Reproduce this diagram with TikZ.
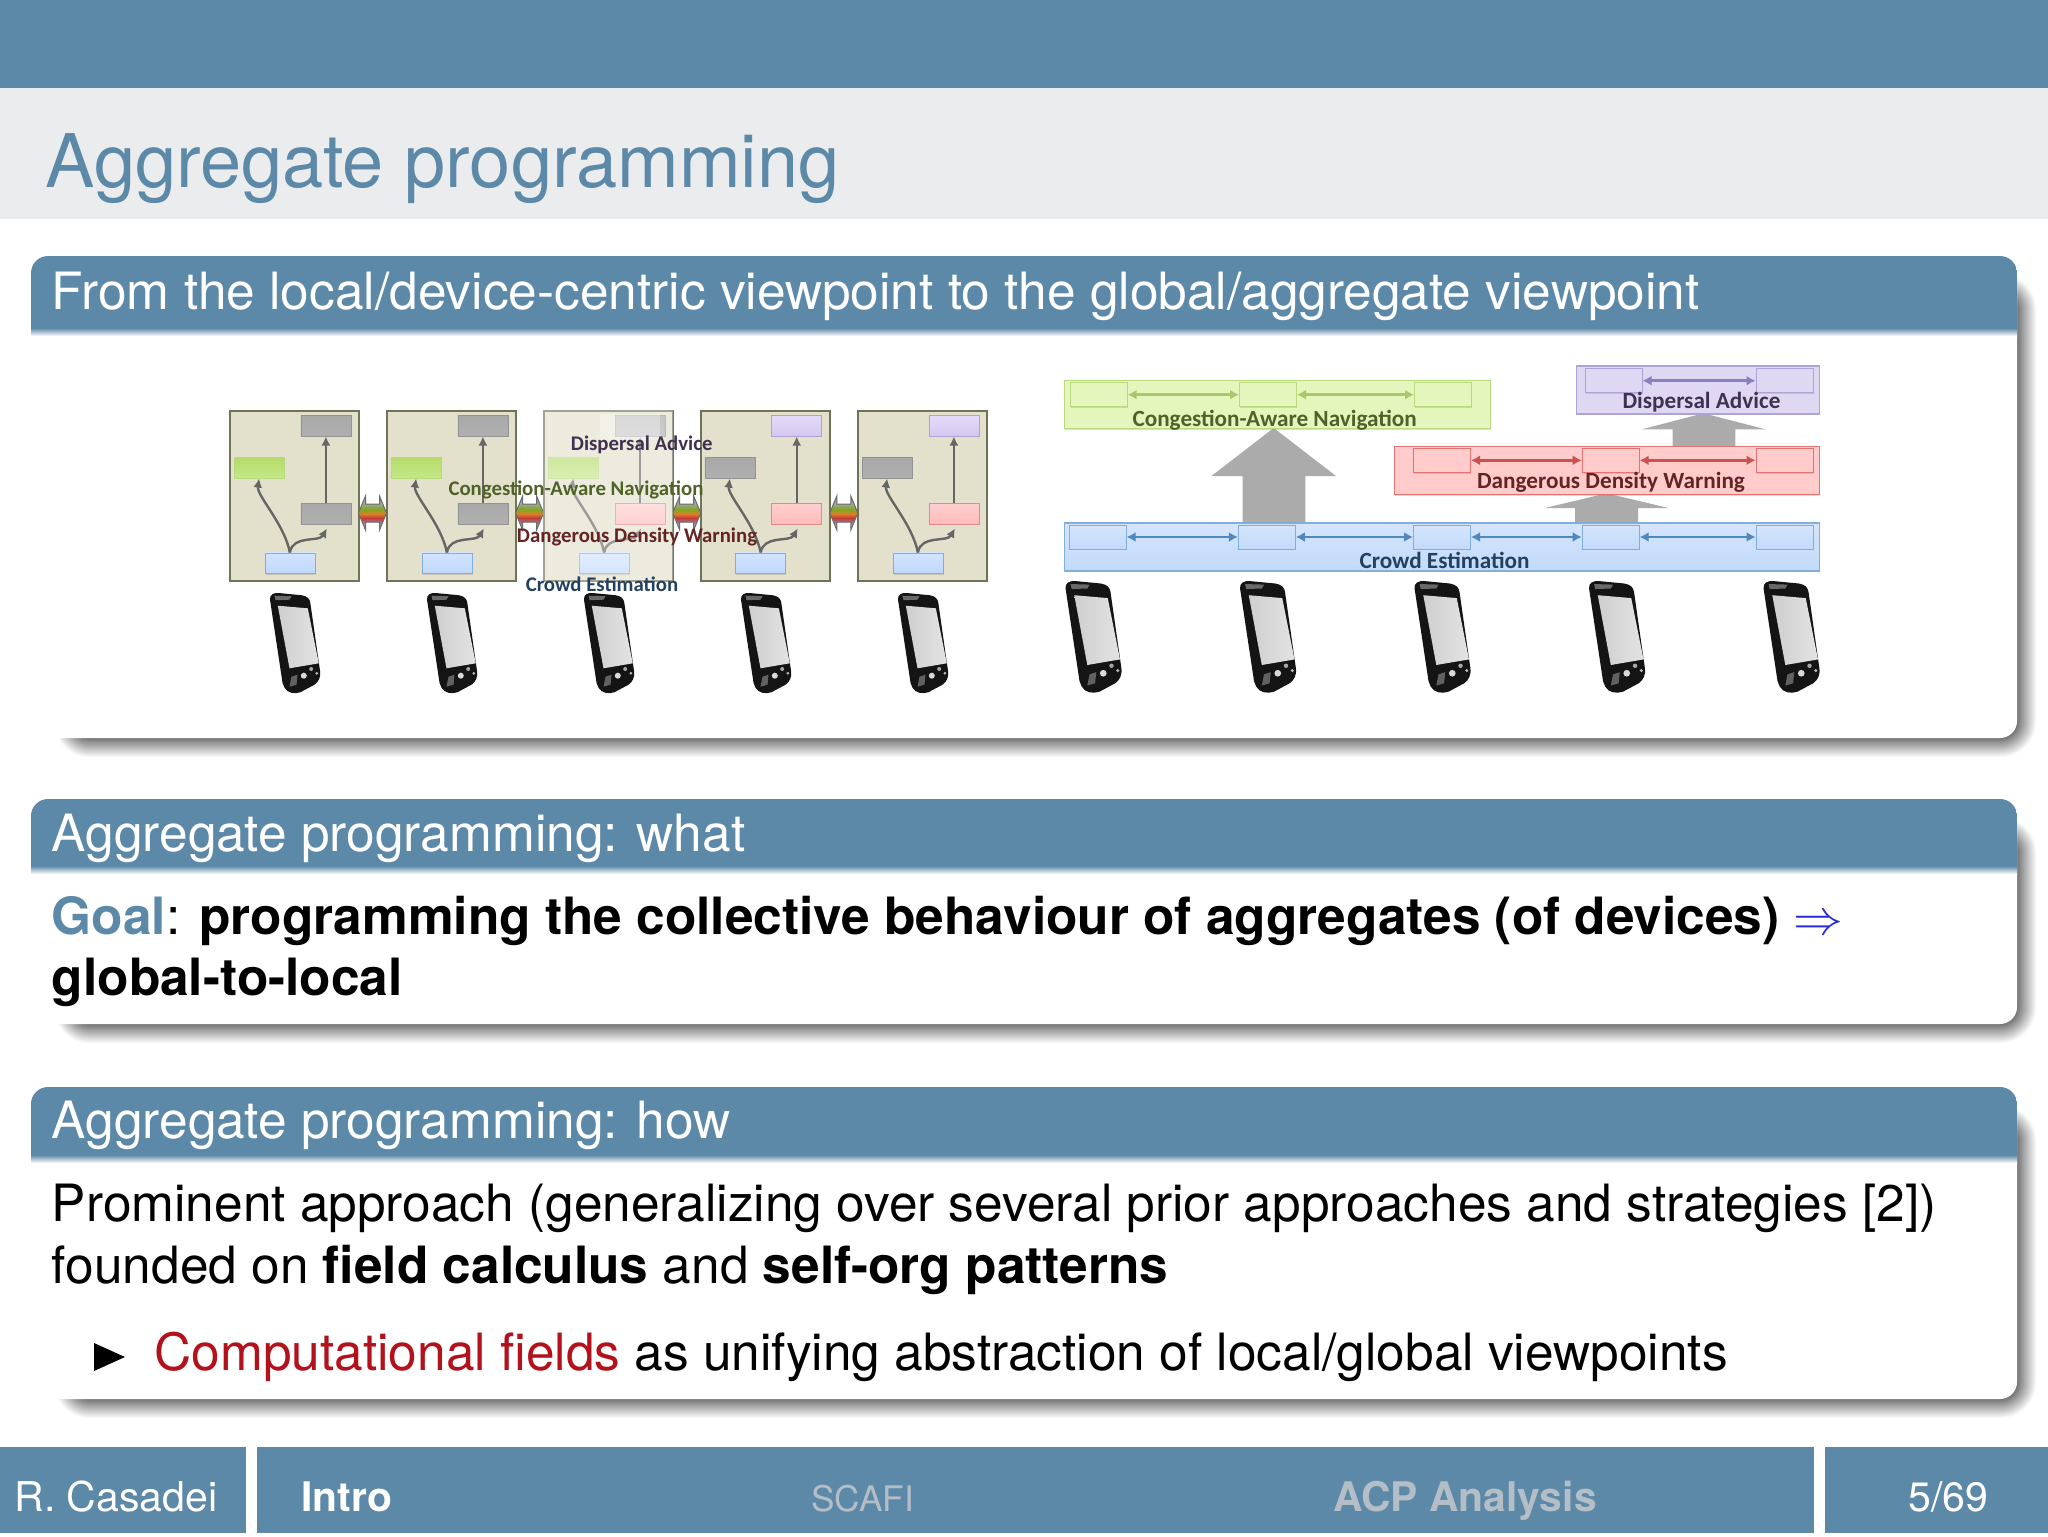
\documentclass[tikz,border=0pt]{standalone}
\usepackage{fontspec}
\setmainfont{TeX Gyre Heros}
\newfontfamily\carlitofont{Carlito}
\usetikzlibrary{arrows.meta,calc,shadows}
\definecolor{hdr}{HTML}{5D89A9}
\definecolor{band}{HTML}{EBECEE}
\definecolor{shg}{HTML}{707070}
\definecolor{alertred}{HTML}{B3121D}
\definecolor{footgray}{HTML}{B4BEC6}
\definecolor{arrowblue}{HTML}{2A2AD8}
\definecolor{devfill}{HTML}{E3E1CB}
\definecolor{devedge}{HTML}{6F7358}
\definecolor{conn}{HTML}{666666}
\definecolor{bigarrow}{HTML}{ABABAB}
\definecolor{GE}{HTML}{B9D97E}\definecolor{GF}{HTML}{E4F6BC}
\definecolor{PE}{HTML}{AFA3D6}\definecolor{PF}{HTML}{DFD8F2}
\definecolor{RE}{HTML}{DF7472}\definecolor{RF}{HTML}{FFCBCB}
\definecolor{BE}{HTML}{84AEDA}\definecolor{BF}{HTML}{C2DAFA}
\definecolor{tgreen}{HTML}{4F6228}\definecolor{tpurple}{HTML}{3F3151}
\definecolor{tred}{HTML}{632423}\definecolor{tblue}{HTML}{244061}
\definecolor{lgreen}{HTML}{A9C76D}\definecolor{lpurple}{HTML}{8C7FBE}
\definecolor{lred}{HTML}{C9534F}\definecolor{lblue}{HTML}{4F87BF}
\tikzset{
 x=0.5pt,y=-0.5pt,
 slidetitle/.style={anchor=base west,inner sep=0,text=hdr,font=\fontsize{37}{40}\selectfont},
 blocktitle/.style={anchor=base west,inner sep=0,text=white,font=\fontsize{25.7}{30}\selectfont},
 bodytext/.style={anchor=base west,inner sep=0,text=black,font=\fontsize{25.7}{30}\selectfont},
 foot/.style={anchor=base west,inner sep=0,text=white,font=\fontsize{20.5}{24}\selectfont},
 footb/.style={anchor=base west,inner sep=0,text=white,font=\fontsize{20.4}{24}\selectfont\bfseries},
 softshadow/.style={drop shadow={shadow xshift=0.3pt,shadow yshift=-0.6pt,opacity=.28}},
 devbox/.style={draw=devedge,fill=devfill,line width=0.9pt,minimum width=64.5pt,minimum height=85pt,inner sep=0,anchor=north west,softshadow},
 mini/.style={minimum width=25pt,minimum height=10.4pt,inner sep=0,line width=0.4pt,softshadow},
 grayN/.style={mini,draw=gray!85,top color=gray!68,bottom color=gray!62},
 greenN/.style={mini,draw=GE,top color=green1,bottom color=green2},
 redN/.style={mini,draw=RE!85,top color=red1,bottom color=red2},
 blueN/.style={mini,draw=BE,top color=blue1,bottom color=blue2},
 purpleN/.style={mini,draw=PE,top color=purple1,bottom color=purple2},
 connect/.style={draw=conn,line width=1.2pt,-{Latex[length=4.5pt,width=4.5pt]}},
 lbl/.style={inner sep=0,font=\carlitofont\bfseries\fontsize{10.4}{12}\selectfont},
 lblr/.style={inner sep=0,font=\carlitofont\bfseries\fontsize{11.6}{13}\selectfont},
 layer/.style={minimum height=24pt,inner sep=0,anchor=north west,line width=0.6pt,softshadow},
 sub/.style={minimum width=28.5pt,minimum height=12pt,inner sep=0,line width=0.5pt,softshadow},
 glayer/.style={layer,draw=GE,fill=GF},
 player/.style={layer,draw=PE,fill=PF},
 rlayer/.style={layer,draw=RE,fill=RF},
 blayer/.style={layer,draw=BE,top color=BF!70!white,bottom color=BF},
 gsub/.style={sub,draw=GE,fill=GF},
 psub/.style={sub,draw=PE,fill=PF},
 rsub/.style={sub,draw=RE,fill=RF},
 bsub/.style={sub,draw=BE,top color=BF!70!white,bottom color=BF},
 link/.style={line width=1.4pt,{Latex[length=4.5pt,width=5pt]}-{Latex[length=4.5pt,width=5pt]}},
 phonepic/.pic={
  \fill[black!92] (0.5,7) .. controls (0,2) and (4,0) .. (9,0.3) -- (32,2.5) .. controls (38,3.5) and (40,6) .. (40.8,10) -- (50.5,78) .. controls (51.5,85) and (49,89) .. (45,92) -- (31,99.5) .. controls (25,101.5) and (18,100.5) .. (15,95) .. controls (14,93) and (13.5,92) .. (13,90) -- cycle;
  \fill[gray!50,opacity=.5] (5,3) -- (22,3.5) -- (20,7) -- (6,7.5) -- cycle;
  \shade[left color=black!19,right color=black!11] (8.3,13) -- (38.3,15.6) -- (49.3,70.6) -- (20,75.6) -- cycle;
  \fill[gray!50,opacity=.45] (22,84) -- (28,82) -- (27,92) -- (20,94) -- cycle;
  \fill[white!85!black] (34.3,83) circle[radius=3];
  \fill[gray!70] (41.7,76.3) circle[radius=2];
  \fill[gray!55] (47.3,80.6) circle[radius=1.5];
 }
}
\definecolor{green1}{HTML}{B4DC6A}\definecolor{green2}{HTML}{C6E788}
\definecolor{red1}{HTML}{FFCFCF}\definecolor{red2}{HTML}{FFBABA}
\definecolor{blue1}{HTML}{D2E4FF}\definecolor{blue2}{HTML}{BFD8FA}
\definecolor{purple1}{HTML}{E4DCF9}\definecolor{purple2}{HTML}{D2C8F0}
\newcommand\blockshape[6]{%
 % #1 node name, #2 top, #3 header bottom, #4 bottom, #5 title baseline, #6 title
 \foreach \k in {20,19,...,0}{
  \pgfmathsetmacro\rr{(17+\k)*0.5}
  \pgfmathtruncatemacro\cc{100-5*\k}
  \fill[shg!\cc!white,rounded corners=\rr pt] (73-\k,#2+37-\k) rectangle (2017+\k,#4+\k);
 }
 \fill[white,rounded corners=8.5pt] (31,#2) rectangle (2017,#4);
 \begin{scope}\clip[rounded corners=8.5pt] (31,#2) rectangle (2017,#4);
  \fill[hdr] (31,#2) rectangle (2017,#3);
  \shade[top color=hdr,bottom color=white] (31,#3) rectangle (2017,#3+8);
 \end{scope}
 \node[blocktitle] (#1) at (51.5,#5) {#6};
}
\begin{document}
\begin{tikzpicture}
\useasboundingbox (0,0) rectangle (2048,1536);
\fill[white] (0,0) rectangle (2048,1536);
\fill[hdr] (0,0) rectangle (2048,88);
\fill[band] (0,88) rectangle (2048,219);
\node[slidetitle] (title) at (45,187) {Aggregate programming};
\blockshape{blockA}{256}{328}{738}{309}{From the local/device-centric viewpoint to the global/aggregate viewpoint}
\blockshape{blockB}{799}{866}{1024}{851}{Aggregate programming: what}
\blockshape{blockC}{1087}{1155}{1399}{1138}{Aggregate programming: how}
\node[bodytext] (goal) at (51.5,934) {\textcolor{hdr}{\bfseries Goal}: \textbf{programming the collective behaviour of aggregates (of devices)} \textcolor{arrowblue}{$\Rightarrow$}};
\node[bodytext] (goalb) at (51.5,995) {\textbf{global-to-local}};
\node[bodytext] (howa) at (51.5,1221) {Prominent approach (generalizing over several prior approaches and strategies [2])};
\node[bodytext] (howb) at (51.5,1283) {founded on \textbf{field calculus} and \textbf{self-org patterns}};
\fill[black] (94,1343) -- (125,1357) -- (94,1371) -- cycle;
\node[bodytext] (howc) at (154,1370) {\textcolor{alertred}{Computational fields} as unifying abstraction of local/global viewpoints};
\fill[hdr] (0,1447) rectangle (246,1533);
\fill[hdr] (257,1447) rectangle (1814,1533);
\fill[hdr] (1825,1447) rectangle (2048,1533);
\node[foot] (fa) at (14,1511) {R. Casadei};
\node[footb] (fb) at (301,1511) {Intro};
\node[foot,text=footgray,font=\fontsize{17.6}{22}\selectfont] (fc) at (811,1511) {SCAFI};
\node[footb,text=footgray] (fd) at (1333,1511) {ACP Analysis};
\node[foot] (fe) at (1908,1511) {5/69};
\foreach \i/\x/\tp/\lf/\md in {1/229/grayN/greenN/grayN,2/386/grayN/greenN/grayN,3/543.2/grayN/greenN/redN,4/699.8/purpleN/grayN/redN,5/857/purpleN/grayN/redN}{
 \node[devbox] (box\i) at (\x,410) {};
 \node[\tp] (tp\i) at (\x+96.9,425.7) {};
 \node[\lf] (lf\i) at (\x+30.1,467.8) {};
 \node[\md] (md\i) at (\x+96.9,513.7) {};
 \node[blueN] (bl\i) at (\x+60.9,563.3) {};
 \draw[connect] (md\i.north) -- (tp\i.south);
 \draw[connect] (bl\i.north) .. controls +(-5.6,-28.7) and +(-2.5,17) .. (lf\i.south);
 \draw[connect] (bl\i.north) .. controls +(3,-18) and +(-8,14) .. ($(md\i.south)+(1,4)$);
}
\foreach \x in {358.5,515.6,672.7,829.8}{
 \begin{scope}
  \clip (\x,513) -- (\x+7,496) -- (\x+7,504) -- (\x+21,504) -- (\x+21,496) -- (\x+28,513) -- (\x+21,530) -- (\x+21,522) -- (\x+7,522) -- (\x+7,530) -- cycle;
  \fill[gray!75] (\x,495) rectangle (\x+28,531);
  \shade[top color=gray!70,bottom color=olive!65!green!60!gray!85] (\x,503) rectangle (\x+28,509);
  \shade[top color=olive!65!green!60!gray!85,bottom color=orange!70!gray] (\x,509) rectangle (\x+28,514);
  \shade[top color=orange!70!gray,bottom color=red!55!gray] (\x,514) rectangle (\x+28,518);
  \shade[top color=red!55!gray,bottom color=gray!75!violet!80] (\x,518) rectangle (\x+28,523);
 \end{scope}
 \draw[gray!85!black,line width=0.5pt] (\x,513) -- (\x+7,496) -- (\x+7,504) -- (\x+21,504) -- (\x+21,496) -- (\x+28,513) -- (\x+21,530) -- (\x+21,522) -- (\x+7,522) -- (\x+7,530) -- cycle;
}
\fill[white,opacity=.35] (543,409) rectangle (672.5,582);
\fill[white,opacity=.35] (600,414) rectangle (660,440);
\node[lbl,text=tpurple] (da1) at (641.7,445) {Dispersal Advice};
\node[lbl,text=tgreen] (cn1) at (576,490) {Congestion-Aware Navigation};
\node[lbl,text=tred] (dd1) at (637,537) {Dangerous Density Warning};
\node[lbl,text=tblue] (ce1) at (602,584) {Crowd Estimation};
\foreach \i/\x in {1/0,2/157,3/314,4/471,5/628}{
 \pic (pa\i) at (269.5+\x,592.7) {phonepic};
}
\fill[bigarrow] (1242.5,522) -- (1242.5,476) -- (1211.4,476) -- (1273.7,428) -- (1336,476) -- (1305.3,476) -- (1305.3,522) -- cycle;
\fill[bigarrow] (1672.7,446) -- (1672.7,429.3) -- (1642,429.3) -- (1703.5,413.3) -- (1765.5,429.3) -- (1735.4,429.3) -- (1735.4,446) -- cycle;
\fill[bigarrow] (1575,522) -- (1575,508) -- (1545,508) -- (1606.5,493.3) -- (1668.6,508) -- (1638,508) -- (1638,522) -- cycle;
\node[glayer,minimum width=212.75pt] (lg) at (1064,380) {};
\node[player,minimum width=121.8pt] (lp) at (1575.5,365.3) {};
\node[rlayer,minimum width=212.5pt] (lr) at (1394,446) {};
\node[blayer,minimum width=377.5pt] (lb) at (1064,522.3) {};
\foreach \n/\x in {g1/1098.7,g2/1268,g3/1443}{\node[gsub] (\n) at (\x,394.7) {};}
\foreach \n/\x in {p1/1613.5,p2/1784.5}{\node[psub] (\n) at (\x,380.7) {};}
\foreach \n/\x in {r1/1442,r2/1610.7,r3/1784.5}{\node[rsub] (\n) at (\x,460.3) {};}
\foreach \n/\x in {c1/1097.6,c2/1266.8,c3/1442,c4/1610.7,c5/1784.5}{\node[bsub] (\n) at (\x,537) {};}
\draw[link,lgreen] (g1) -- (g2); \draw[link,lgreen] (g2) -- (g3);
\draw[link,lpurple] (p1) -- (p2);
\draw[link,lred] (r1) -- (r2); \draw[link,lred] (r2) -- (r3);
\draw[link,lblue] (c1) -- (c2); \draw[link,lblue] (c2) -- (c3); \draw[link,lblue] (c3) -- (c4); \draw[link,lblue] (c4) -- (c5);
\node[lblr,text=tgreen] (cn2) at (1274.7,420.5) {Congestion-Aware Navigation};
\node[lblr,text=tpurple] (da2) at (1701.5,402) {Dispersal Advice};
\node[lblr,text=tred] (dd2) at (1611,482) {Dangerous Density Warning};
\node[lblr,text=tblue] (ce2) at (1444.5,560) {Crowd Estimation};
\foreach \i/\x in {1/0,2/174.5,3/349,4/523.5,5/698}{
 \pic[scale=1.115] (pb\i) at (1065+\x,580.7) {phonepic};
}
\end{tikzpicture}
\end{document}
